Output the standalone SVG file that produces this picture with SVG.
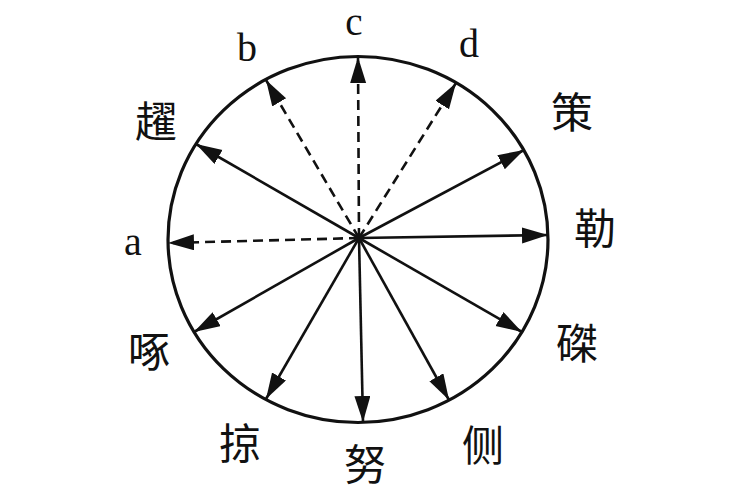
<svg xmlns="http://www.w3.org/2000/svg" width="741" height="500" viewBox="0 0 741 500">
<defs>
<marker id="ah" markerUnits="userSpaceOnUse" markerWidth="28" markerHeight="18" refX="26" refY="8" orient="auto">
<path d="M0,0 L26,8 L0,16 Z" fill="#111"/>
</marker>
<style>
.ring{fill:none;stroke:#111;stroke-width:3.2}
.s{stroke:#111;stroke-width:2.6;fill:none;marker-end:url(#ah)}
.d{stroke:#111;stroke-width:2.6;fill:none;stroke-dasharray:10 6;marker-end:url(#ah)}
.lat{font-family:"Liberation Serif","Times New Roman",serif;font-size:40px;fill:#111;text-anchor:middle}
.cjk{font-family:"Noto Sans CJK SC","Noto Sans CJK TC",sans-serif;font-size:42px;fill:#111;text-anchor:middle}
</style>
</defs>
<rect width="741" height="500" fill="#fff"/>
<g id="circle"><ellipse class="ring" cx="358" cy="239.5" rx="190" ry="183"/></g>
<g id="connectors">
<line class="d" x1="359" y1="238" x2="168" y2="243"/>
<line class="d" x1="359" y1="238" x2="266" y2="80"/>
<line class="d" x1="359" y1="238" x2="358" y2="57"/>
<line class="d" x1="359" y1="238" x2="456" y2="83"/>
<line class="s" x1="359" y1="238" x2="196" y2="144"/>
<line class="s" x1="359" y1="238" x2="524" y2="150"/>
<line class="s" x1="359" y1="238" x2="548" y2="235"/>
<line class="s" x1="359" y1="238" x2="522" y2="332"/>
<line class="s" x1="359" y1="238" x2="449" y2="400"/>
<line class="s" x1="359" y1="238" x2="363" y2="422"/>
<line class="s" x1="359" y1="238" x2="266" y2="399"/>
<line class="s" x1="359" y1="238" x2="194" y2="332"/>
<circle cx="359" cy="238" r="4.5" fill="#111"/>
</g>
<g id="label-a"><text class="lat" x="133" y="255">a</text></g>
<g id="label-b"><text class="lat" x="247" y="61">b</text></g>
<g id="label-c"><text class="lat" x="354" y="35" style="font-size:39px">c</text></g>
<g id="label-d"><text class="lat" x="469" y="57">d</text></g>
<g id="label-yue"><text class="cjk" x="156" y="137">趯</text></g>
<g id="label-ce"><text class="cjk" x="572" y="128">策</text></g>
<g id="label-le"><text class="cjk" x="595" y="244">勒</text></g>
<g id="label-zhe"><text class="cjk" x="577" y="359">磔</text></g>
<g id="label-ze"><text class="cjk" x="483" y="461">侧</text></g>
<g id="label-nu"><text class="cjk" x="365" y="480">努</text></g>
<g id="label-lue"><text class="cjk" x="240" y="459">掠</text></g>
<g id="label-zhuo"><text class="cjk" x="149" y="367">啄</text></g>
</svg>
